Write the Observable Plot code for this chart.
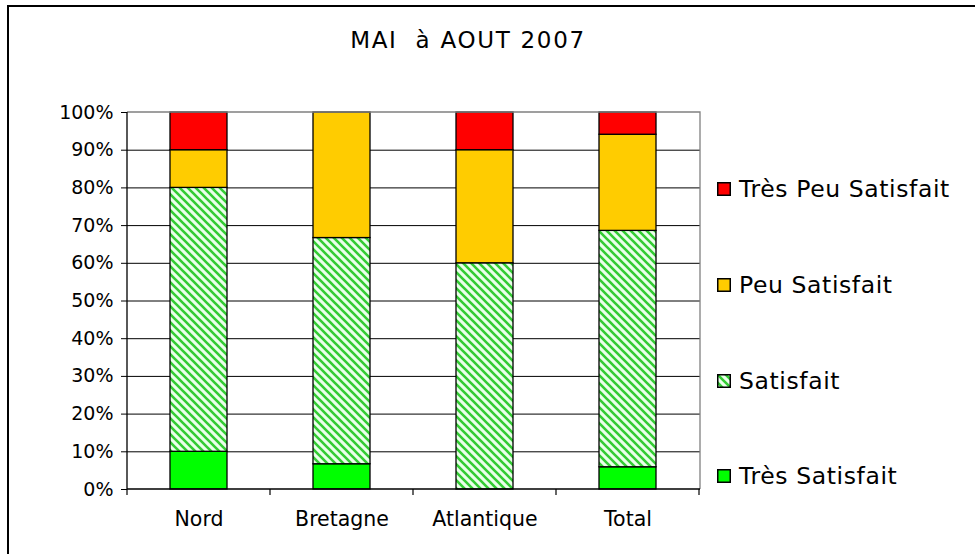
<!DOCTYPE html>
<html>
<head>
<meta charset="utf-8">
<script src="https://cdn.jsdelivr.net/npm/d3@7"></script>
<script src="https://cdn.jsdelivr.net/npm/@observablehq/plot@0.6"></script>
<style>
  html, body { margin: 0; padding: 0; background: #fff; }
  body { width: 975px; height: 554px; overflow: hidden; position: relative; font-family: "DejaVu Sans", Verdana, sans-serif; }
  #border { position: absolute; left: 7px; top: 5px; width: 1000px; height: 600px; border: 2px solid #000; box-sizing: border-box; }
  #chart { position: absolute; left: 0; top: 0; }
  #title { position: absolute; left: 0; width: 936px; top: 27px; text-align: center; font-size: 23px; letter-spacing: 1.7px; color: #000; white-space: pre; }
  #legend { position: absolute; left: 0; top: 0; }
  .row { position: absolute; left: 717px; display: flex; align-items: center; height: 30px; }
  .row svg { display: block; }
  .row span { margin-left: 8px; font-size: 23.5px; letter-spacing: 0.6px; color: #000; white-space: nowrap; }
</style>
</head>
<body>
<div id="border"></div>
<div id="chart"></div>
<div id="title">MAI  à AOUT 2007</div>
<div id="legend"></div>
<script>
// ---- data ----
const regions = ["Nord", "Bretagne", "Atlantique", "Total"];
const categories = ["Très Satisfait", "Satisfait", "Peu Satisfait", "Très Peu Satisfait"];
const tresSatisfait    = [10, 6.7, 0, 5.9];
const satisfait        = [70, 60, 60, 62.7];
const peuSatisfait     = [10, 33.3, 30, 25.5];
const tresPeuSatisfait = [10, 0, 10, 5.9];
const yTicks = [0, 10, 20, 30, 40, 50, 60, 70, 80, 90, 100];
const colors = ["#00ff00", "url(#hatch)", "#ffcc00", "#ff0000"];

const series = [tresSatisfait, satisfait, peuSatisfait, tresPeuSatisfait];
const data = [];
regions.forEach((r, i) => {
  categories.forEach((c, j) => {
    if (series[j][i] > 0) data.push({region: r, cat: c, value: series[j][i]});
  });
});

// frame lines (grey top/right, black left/bottom axis lines)
function frameLines(index, scales, values, dims) {
  const l = dims.marginLeft, r = dims.width - dims.marginRight;
  const t = dims.marginTop, b = dims.height - dims.marginBottom;
  const g = d3.create("svg:g").attr("fill", "none");
  g.append("path").attr("d", `M${l},${t}H${r}V${b}`).attr("stroke", "#808080").attr("stroke-width", 1.3);
  g.append("path").attr("d", `M${l},${t}V${b}H${r}`).attr("stroke", "#000").attr("stroke-width", 1.3);
  return g.node();
}

// x ticks at category boundaries
function xBoundaryTicks(index, scales, values, dims) {
  const x = scales.x;
  const bw = typeof x.bandwidth === "function" ? x.bandwidth() : (x.bandwidth || 0);
  const centers = regions.map(r => x(r) + bw / 2);
  const step = centers[1] - centers[0];
  const bounds = [centers[0] - step / 2, ...centers.map(c => c + step / 2)];
  const b = dims.height - dims.marginBottom;
  const g = d3.create("svg:g").attr("stroke", "#000").attr("stroke-width", 1.2);
  bounds.forEach(v => g.append("line").attr("x1", v).attr("x2", v).attr("y1", b).attr("y2", b + 6));
  return g.node();
}

const chart = Plot.plot({
  width: 975,
  height: 554,
  marginLeft: 127,
  marginRight: 275,
  marginTop: 112,
  marginBottom: 65,
  style: {fontFamily: "DejaVu Sans, Verdana, sans-serif", background: "transparent", color: "#000", overflow: "visible"},
  x: {domain: regions, paddingInner: 0.6, paddingOuter: 0.3, label: null, axis: null},
  y: {domain: [0, 100], label: null, axis: null},
  color: {domain: categories, range: colors},
  marks: [
    Plot.ruleY(yTicks.slice(1, -1), {stroke: "#000", strokeWidth: 1}),
    Plot.barY(data, {x: "region", y: "value", fill: "cat", stroke: "#000", strokeWidth: 1.3, order: categories}),
    frameLines,
    Plot.axisY(yTicks, {tickSize: 6, tickPadding: 8, tickFormat: d => d + "%", fontSize: 19, label: null, stroke: "#000"}),
    Plot.axisX({tickSize: 0, tickPadding: 22, fontSize: 20.5, label: null}),
    xBoundaryTicks
  ]
});

d3.select(chart).insert("defs", ":first-child").html(`
  <pattern id="hatch" patternUnits="userSpaceOnUse" width="8" height="8">
    <rect width="8" height="8" fill="#eaffea"></rect>
    <path d="M-2,-2 L10,10 M-2,6 L2,10 M6,-2 L10,2" stroke="#33cc33" stroke-width="2.6"></path>
  </pattern>`);

document.getElementById("chart").appendChild(chart);

// legend (top to bottom: reverse of stack order)
const legend = d3.select("#legend");
const rowCenters = [189, 285, 381, 476];
categories.slice().reverse().forEach((c, i) => {
  const idx = categories.indexOf(c);
  const row = legend.append("div").attr("class", "row").style("top", (rowCenters[i] - 15) + "px");
  const sw = row.append("svg").attr("width", 14).attr("height", 14);
  sw.append("rect").attr("x", 0.75).attr("y", 0.75).attr("width", 12.5).attr("height", 12.5)
    .attr("fill", colors[idx]).attr("stroke", "#000").attr("stroke-width", 1.5);
  row.append("span").text(c);
});
</script>
</body>
</html>
